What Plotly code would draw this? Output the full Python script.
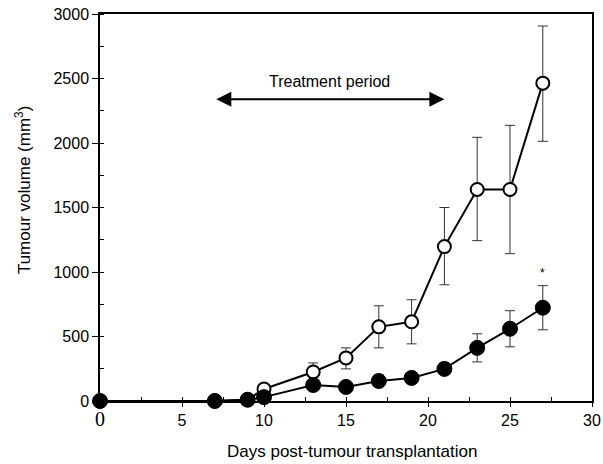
import plotly.graph_objects as go

days = [0, 7, 9, 10, 13, 15, 17, 19, 21, 23, 25, 27]
control = [0, 0, 10, 93, 225, 334, 575, 614, 1197, 1640, 1640, 2464]
control_up = [0, 0, 0, 10, 70, 78, 163, 171, 303, 404, 497, 443]
control_dn = [0, 0, 0, 10, 70, 85, 163, 171, 296, 397, 498, 451]
treated = [0, 0, 10, 30, 124, 109, 155, 179, 249, 412, 560, 723]
treated_up = [0, 0, 0, 0, 39, 0, 47, 0, 46, 109, 140, 171]
treated_dn = [0, 0, 0, 0, 0, 0, 0, 0, 0, 109, 140, 171]

xticks = [0, 5, 10, 15, 20, 25, 30]
xticklabels = ['<span style="font-family:Liberation Serif;font-size:20px">0</span>', "5", "10", "15", "20", "25", "30"]
yticks = [0, 500, 1000, 1500, 2000, 2500, 3000]

fig = go.Figure()
fig.add_trace(go.Scatter(
    x=days, y=control, mode="lines+markers",
    line=dict(color="black", width=2),
    marker=dict(symbol="circle", size=13, color="white", line=dict(color="black", width=2)),
    error_y=dict(type="data", symmetric=False, array=control_up, arrayminus=control_dn,
                 color="#333333", thickness=1, width=5),
    cliponaxis=False, showlegend=False))
fig.add_trace(go.Scatter(
    x=days, y=treated, mode="lines+markers",
    line=dict(color="black", width=2),
    marker=dict(symbol="circle", size=15, color="black", line=dict(color="black", width=1)),
    error_y=dict(type="data", symmetric=False, array=treated_up, arrayminus=treated_dn,
                 color="#333333", thickness=1, width=5),
    cliponaxis=False, showlegend=False))

# treatment period arrow
fig.add_annotation(x=21, y=2340, ax=7, ay=2340, xref="x", yref="y", axref="x", ayref="y",
                   showarrow=True, arrowhead=2, arrowside="end+start", arrowwidth=2,
                   arrowsize=1.5, arrowcolor="black", text="")
fig.add_annotation(x=14, y=2480, xref="x", yref="y", text="Treatment period", showarrow=False,
                   font=dict(size=16, color="black"))
fig.add_annotation(x=27, y=990, xref="x", yref="y", text="*", showarrow=False,
                   font=dict(size=12, color="black"))

# axis titles
fig.add_annotation(x=0.512, y=0, xref="paper", yref="paper", yanchor="middle", yshift=-50,
                   text="Days post-tumour transplantation", showarrow=False,
                   font=dict(size=17, color="black"))
fig.add_annotation(x=0, y=0.545, xref="paper", yref="paper", xanchor="center", xshift=-77,
                   textangle=-90, text="Tumour volume (mm<sup>3</sup>)", showarrow=False,
                   font=dict(size=17, color="black"))

fig.update_layout(
    width=603, height=464,
    margin=dict(l=100, r=11, t=14, b=63),
    plot_bgcolor="white", paper_bgcolor="white",
    font=dict(family="Liberation Sans, Arial, sans-serif", size=16, color="black"),
    xaxis=dict(range=[0, 30], tickvals=xticks, ticktext=xticklabels, automargin=False,
               ticklabeloverflow="allow",
               showgrid=False, zeroline=False, showline=True, linecolor="black", linewidth=1.5,
               mirror=True, ticks="outside", ticklen=4, tickcolor="black",
               minor=dict(ticks="inside", dtick=2.5, ticklen=4, tickcolor="black"),
               tickfont=dict(size=16)),
    yaxis=dict(range=[0, 3000], tickvals=yticks, automargin=False,
               ticklabeloverflow="allow",
               showgrid=False, zeroline=False, showline=True, linecolor="black", linewidth=1.5,
               mirror=True, ticks="outside", ticklen=6, tickcolor="black",
               minor=dict(ticks="inside", dtick=250, ticklen=4, tickcolor="black"),
               tickfont=dict(size=16)),
)
fig.write_html("out.html", config={"displayModeBar": False},
               post_script="document.body.style.margin='0';document.body.style.overflow='hidden';")
